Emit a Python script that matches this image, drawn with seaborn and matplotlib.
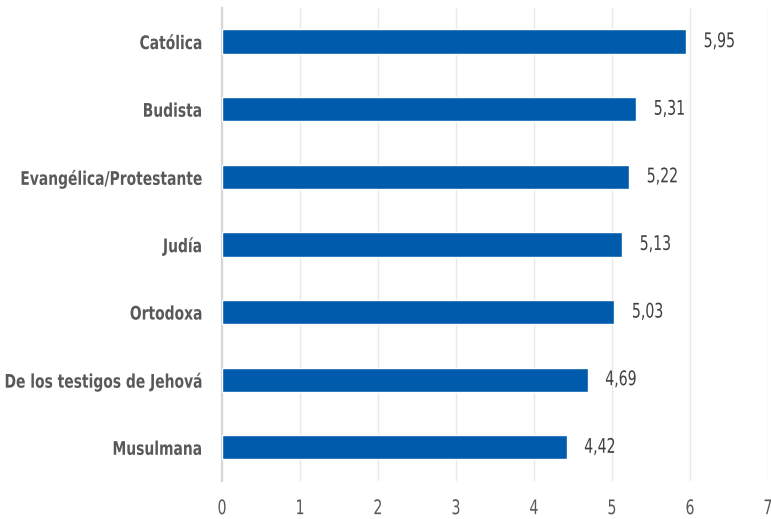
import matplotlib
matplotlib.use("Agg")
import matplotlib.pyplot as plt
from matplotlib.patheffects import AbstractPathEffect
from matplotlib.transforms import Affine2D
import seaborn as sns
import pandas as pd

religions = ["Católica", "Budista", "Evangélica/Protestante", "Judía",
             "Ortodoxa", "De los testigos de Jehová", "Musulmana"]
scores = [5.95, 5.31, 5.22, 5.13, 5.03, 4.69, 4.42]

df = pd.DataFrame({"Religión": religions, "Valor": scores})


# no condensed font installed, so squeeze the glyphs horizontally
class Narrow(AbstractPathEffect):
    def __init__(self, sx, anchor):
        super().__init__()
        self.sx = sx
        self.anchor = anchor

    def draw_path(self, renderer, gc, tpath, affine, rgbFace=None):
        ext = tpath.get_extents()
        x = {"left": ext.x0, "right": ext.x1,
             "center": (ext.x0 + ext.x1) / 2}[self.anchor]
        t = Affine2D().translate(-x, 0).scale(self.sx, 1).translate(x, 0) + affine
        renderer.draw_path(gc, tpath, t, rgbFace)


sns.set_theme(style="white")
plt.rcParams["font.family"] = ["DejaVu Sans"]

fig = plt.figure(figsize=(7.71, 5.19), dpi=100)
ax = fig.add_axes([0.288, 0.073, 0.708, 0.912])

sns.barplot(data=df, x="Valor", y="Religión", color="#005BAC", width=0.36,
            saturation=1, ax=ax, zorder=3)

ax.set_xlim(0, 7)
ax.set_ylim(6.5, -0.5)
ax.set_xticks(range(0, 8))
ax.set_xlabel("")
ax.set_ylabel("")
ax.grid(axis="x", color="#e9e9e9", linewidth=1, zorder=0)
for side in ["top", "right", "bottom"]:
    ax.spines[side].set_visible(False)
ax.spines["left"].set_color("#d6d6d6")
ax.spines["left"].set_linewidth(1.6)
ax.tick_params(axis="x", length=0, pad=13, labelsize=14.5, labelcolor="#595959")
ax.tick_params(axis="y", length=0, pad=14, labelsize=13.5, labelcolor="#595959")
for lbl in ax.get_yticklabels():
    lbl.set_fontweight("bold")
    lbl.set_path_effects([Narrow(0.74, "right")])
for lbl in ax.get_xticklabels():
    lbl.set_path_effects([Narrow(0.7, "center")])

for i, v in enumerate(scores):
    ax.text(v + 0.22, i, f"{v:.2f}".replace(".", ","), va="center", ha="left",
            fontsize=14.5, color="#404040",
            path_effects=[Narrow(0.7, "left")])

fig.savefig("out.png", dpi=100)
